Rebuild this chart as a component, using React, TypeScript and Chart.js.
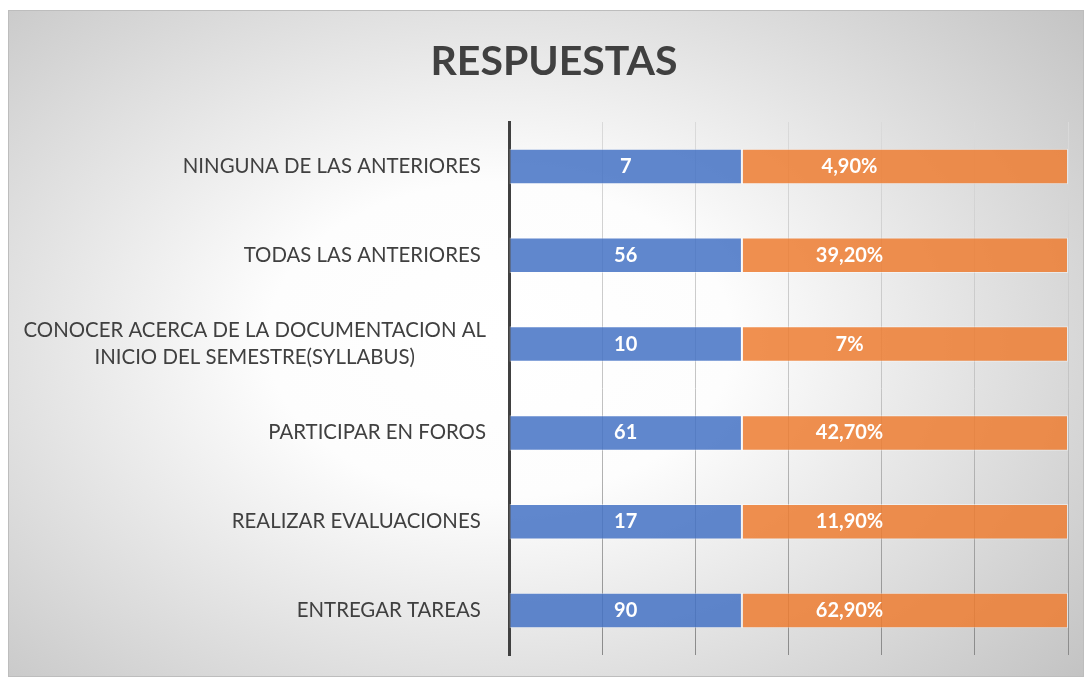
import React, { useEffect, useRef } from 'react';
import { Chart, registerables } from 'chart.js';

Chart.register(...registerables);

const chartTitle = 'RESPUESTAS';
const categories: (string | string[])[] = [
  'NINGUNA DE LAS ANTERIORES ',
  'TODAS LAS ANTERIORES ',
  ['CONOCER ACERCA DE LA DOCUMENTACION AL', 'INICIO DEL SEMESTRE(SYLLABUS)'],
  'PARTICIPAR EN FOROS',
  'REALIZAR EVALUACIONES ',
  'ENTREGAR TAREAS ',
];
// shown values
const counts = [7, 56, 10, 61, 17, 90];
const percentLabels = ['4,90%', '39,20%', '7%', '42,70%', '11,90%', '62,90%'];
// plotted segment lengths (axis 0..6)
const countSegment = [2.5, 2.5, 2.5, 2.5, 2.5, 2.5];
const percentSegment = [3.5, 3.5, 3.5, 3.5, 3.5, 3.5];
const axisMax = 6;

const FONT = 'Lato, "Open Sans", sans-serif';

const backgroundPlugin = {
  id: 'bg',
  beforeDraw(chart: any) {
    const { ctx, width, height } = chart;
    ctx.save();
    ctx.translate(492, 330);
    ctx.scale(620, 420);
    const g = ctx.createRadialGradient(0, 0, 0, 0, 0, 1.25);
    g.addColorStop(0, '#ffffff');
    g.addColorStop(0.3, '#fdfdfd');
    g.addColorStop(1, '#c2c2c2');
    ctx.fillStyle = g;
    ctx.fillRect(-1, -1, 2, 2);
    ctx.restore();
    ctx.save();
    ctx.strokeStyle = '#bdbdbd';
    ctx.lineWidth = 1;
    ctx.strokeRect(0.5, 0.5, width - 1, height - 1);
    // title
    ctx.fillStyle = '#404040';
    ctx.font = `bold 41px ${FONT}`;
    ctx.textAlign = 'center';
    ctx.textBaseline = 'middle';
    ctx.fillText(chartTitle, 546, 52);
    ctx.restore();
  },
};

const labelsPlugin = {
  id: 'labels',
  afterDraw(chart: any) {
    const { ctx } = chart;
    const yScale = chart.scales.y;
    ctx.save();
    // category labels
    ctx.fillStyle = '#404040';
    ctx.font = `20.4px ${FONT}`;
    ctx.textBaseline = 'middle';
    ctx.textAlign = 'center';
    const blockRight = 478;
    const lineH = 27;
    categories.forEach((cat, i) => {
      const lines = Array.isArray(cat) ? cat : [cat];
      const w = Math.max(...lines.map((l) => ctx.measureText(l).width));
      const cx = blockRight - w / 2;
      const yc = yScale.getPixelForValue(i);
      lines.forEach((l, k) => {
        ctx.fillText(l, cx, yc + (k - (lines.length - 1) / 2) * lineH);
      });
    });
    // data labels
    ctx.fillStyle = '#ffffff';
    ctx.font = `bold 20px ${FONT}`;
    const m0 = chart.getDatasetMeta(0);
    const m1 = chart.getDatasetMeta(1);
    m0.data.forEach((el: any, i: number) => {
      ctx.fillText(String(counts[i]), (el.x + el.base) / 2, el.y);
    });
    m1.data.forEach((el: any, i: number) => {
      ctx.fillText(percentLabels[i], el.base + 0.33 * (el.x - el.base), el.y);
    });
    ctx.restore();
  },
};

export default function App() {
  const ref = useRef<HTMLCanvasElement>(null);
  useEffect(() => {
    if (!ref.current) return;
    const chart = new Chart(ref.current, {
      type: 'bar',
      data: {
        labels: categories as any,
        datasets: [
          {
            label: 'Cantidad',
            data: countSegment,
            backgroundColor: 'rgba(68,114,196,0.85)',
            borderColor: 'rgba(255,255,255,0.45)',
            borderWidth: 1,
            borderSkipped: false,
            barPercentage: 0.4,
            categoryPercentage: 1,
          },
          {
            label: 'Porcentaje',
            data: percentSegment,
            backgroundColor: 'rgba(237,125,49,0.85)',
            borderColor: 'rgba(255,255,255,0.45)',
            borderWidth: 1,
            borderSkipped: false,
            barPercentage: 0.4,
            categoryPercentage: 1,
          },
        ],
      },
      options: {
        indexAxis: 'y',
        animation: false,
        responsive: false,
        maintainAspectRatio: false,
        layout: { padding: { left: 501, top: 112, right: 16, bottom: 22 } },
        plugins: {
          legend: { display: false },
          title: { display: false },
          tooltip: { enabled: false },
        },
        scales: {
          x: {
            stacked: true,
            min: 0,
            max: axisMax,
            ticks: { display: false, stepSize: 1 },
            border: { display: false },
            grid: {
              drawTicks: false,
              lineWidth: 1,
              color: (c: any) => {
                const ch = c.chart;
                const area = ch.chartArea;
                if (!area) return '#d0d0d0';
                const g = ch.ctx.createLinearGradient(0, area.top, 0, area.bottom);
                g.addColorStop(0, '#dadada');
                g.addColorStop(0.5, '#c4c4c4');
                g.addColorStop(1, '#8a8a8a');
                return g;
              },
            },
          },
          y: {
            stacked: true,
            ticks: { display: false },
            grid: { display: false, drawTicks: false },
            border: { display: true, color: '#404040', width: 3 },
          },
        },
      },
      plugins: [backgroundPlugin, labelsPlugin],
    } as any);
    return () => chart.destroy();
  }, []);
  return (
    <div style={{ position: 'fixed', left: 8, top: 10, width: 1076, height: 667 }}>
      <canvas ref={ref} width={1076} height={667} style={{ display: 'block' }} />
    </div>
  );
}
